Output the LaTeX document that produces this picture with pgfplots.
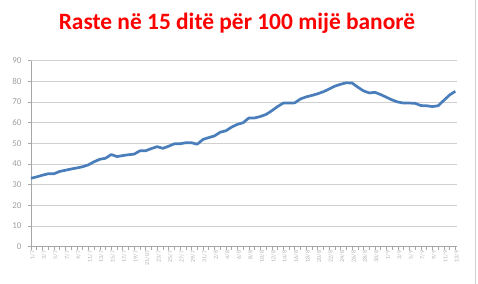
\documentclass[border=0pt]{standalone}
\usepackage{fontspec}
\setmainfont{Carlito}
\usepackage{pgfplots}
\pgfplotsset{compat=1.18}
\definecolor{linecol}{HTML}{4A7EBB}
\definecolor{gridcol}{HTML}{D0D0D0}
\definecolor{axcol}{HTML}{A6A6A6}
\definecolor{ylab}{HTML}{A0A0A0}
\definecolor{xlab}{HTML}{B0B0B0}
\begin{document}
\begin{tikzpicture}
\path[use as bounding box] (-31bp,-37.3bp) rectangle (447bp,246.7bp);
\begin{axis}[
  scale only axis, width=426bp, height=186bp,
  at={(0,0)}, anchor=south west,
  xmin=0, xmax=74.3, ymin=0, ymax=90,
  axis x line*=bottom, axis y line*=left,
  axis line style={axcol, line width=0.6pt},
  ytick={0,10,...,90},
  ymajorgrids, grid style={gridcol, line width=0.6pt},
  xtick={0,2,...,74},
  minor xtick={1,3,...,73},
  xticklabels={1/7,3/7,5/7,7/7,9/7,11/7,13/7,15/7,17/7,19/7,21/07,23/7,25/7,27/7,29/7,31/7,2/8,4/8,6/8,8/8,10/8,12/8,14/8,16/8,18/8,20/8,22/8,24/8,26/8,28/8,30/8,1/9,3/9,5/9,7/9,9/9,11/9,13/9},
  x tick label style={rotate=90, anchor=east, font=\fontsize{6}{7}\selectfont, text=xlab, inner sep=1pt, yshift=-1.5pt},
  y tick label style={font=\fontsize{9}{10}\selectfont, text=ylab, xshift=-3pt},
  /pgf/number format/assume math mode=true,
  tick style={axcol, line width=0.5pt},
  major tick length=3pt, minor tick length=3pt,
  xtick align=outside, ytick align=outside,
  clip=false,
]
\addplot[linecol, line width=2.7bp, line join=round] coordinates {
(0,33.1)(1,33.8)(2,34.6)(3,35.3)(4,35.3)(5,36.4)(6,37.0)(7,37.6)(8,38.1)(9,38.7)
(10,39.6)(11,41.1)(12,42.3)(13,42.8)(14,44.6)(15,43.6)(16,44.1)(17,44.5)(18,44.8)(19,46.4)
(20,46.4)(21,47.5)(22,48.4)(23,47.6)(24,48.6)(25,49.8)(26,49.8)(27,50.3)(28,50.3)(29,49.6)
(30,51.9)(31,52.8)(32,53.6)(33,55.4)(34,56.1)(35,57.9)(36,59.2)(37,60.0)(38,62.3)(39,62.3)
(40,63.0)(41,64.0)(42,65.8)(43,67.8)(44,69.5)(45,69.5)(46,69.6)(47,71.5)(48,72.5)(49,73.2)
(50,74.0)(51,75.0)(52,76.3)(53,77.7)(54,78.6)(55,79.3)(56,79.2)(57,77.2)(58,75.4)(59,74.4)
(60,74.7)(61,73.6)(62,72.3)(63,71.0)(64,70.0)(65,69.5)(66,69.5)(67,69.4)(68,68.3)(69,68.2)
(70,67.8)(71,68.2)(72,70.8)(73,73.4)(74,75.2)
};
\end{axis}
\node[text=red, font=\fontsize{23.5}{27}\selectfont\bfseries] at (206bp,223.7bp) {Raste në 15 ditë për 100 mijë banorë};
\draw[gridcol, line width=0.8pt] (444.5bp,-37.3bp) -- (444.5bp,246.7bp);
\end{tikzpicture}
\end{document}
